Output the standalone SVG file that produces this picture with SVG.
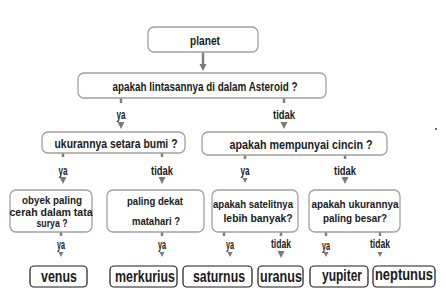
<svg xmlns="http://www.w3.org/2000/svg" width="446" height="304" viewBox="0 0 446 304">
  <style>
    .box { fill: #ffffff; stroke: #a0a0a0; stroke-width: 1.3; }
    .leaf { fill: #ffffff; stroke: #1a1a1a; stroke-width: 1.2; }
    .t { font-family: "Liberation Sans", Arial, sans-serif; font-weight: bold; font-size: 13px; fill: #1a1a1a; text-anchor: middle; }
    .t3 { font-family: "Liberation Sans", Arial, sans-serif; font-weight: bold; font-size: 11.5px; fill: #1a1a1a; text-anchor: middle; }
    .lt { font-family: "Liberation Sans", Arial, sans-serif; font-weight: bold; font-size: 16px; fill: #1a1a1a; text-anchor: middle; }
    .lbl { font-family: "Liberation Sans", Arial, sans-serif; font-weight: bold; font-size: 12px; fill: #1a1a1a; text-anchor: middle; }
    .stub { stroke: #808080; stroke-width: 2.5; fill: none; }
    .head { fill: #7a7a7a; }
  </style>
  <defs>
    <path id="tri" d="M-3.5,0 L3.5,0 L0,7 Z"/>
    <path id="tris" d="M-2.5,0 L2.5,0 L0,5 Z"/>
  </defs>

  <rect width="446" height="304" fill="#ffffff"/>

  <!-- connectors: stubs under each box, branch labels and arrowheads -->
  <g id="connectors">
    <line class="stub" x1="203" y1="52" x2="203" y2="65"/>
    <use href="#tri" class="head" x="203" y="64"/>

    <line class="stub" x1="121" y1="98" x2="121" y2="103"/>
    <line class="stub" x1="284" y1="98" x2="284" y2="103"/>
    <text class="lbl" x="121" y="119" textLength="9" lengthAdjust="spacingAndGlyphs">ya</text>
    <text class="lbl" x="284" y="119" textLength="22" lengthAdjust="spacingAndGlyphs">tidak</text>
    <use href="#tri" class="head" x="121" y="122"/>
    <use href="#tri" class="head" x="284" y="122"/>

    <line class="stub" x1="63" y1="153" x2="63" y2="157"/>
    <line class="stub" x1="162" y1="153" x2="162" y2="157"/>
    <line class="stub" x1="245" y1="155" x2="245" y2="159"/>
    <line class="stub" x1="345" y1="155" x2="345" y2="159"/>
    <text class="lbl" x="63" y="175" textLength="9" lengthAdjust="spacingAndGlyphs">ya</text>
    <text class="lbl" x="162" y="175" textLength="22" lengthAdjust="spacingAndGlyphs">tidak</text>
    <text class="lbl" x="245" y="175" textLength="9" lengthAdjust="spacingAndGlyphs">ya</text>
    <text class="lbl" x="345" y="175" textLength="22" lengthAdjust="spacingAndGlyphs">tidak</text>
    <use href="#tri" class="head" x="63" y="177"/>
    <use href="#tri" class="head" x="162" y="177"/>
    <use href="#tris" class="head" x="245" y="178"/>
    <use href="#tri" class="head" x="345" y="177"/>

    <line class="stub" x1="61" y1="232" x2="61" y2="236"/>
    <line class="stub" x1="162" y1="232" x2="162" y2="236"/>
    <line class="stub" x1="224" y1="232" x2="224" y2="236"/>
    <line class="stub" x1="281" y1="232" x2="281" y2="236"/>
    <line class="stub" x1="326" y1="232" x2="326" y2="236"/>
    <line class="stub" x1="380" y1="232" x2="380" y2="236"/>
    <text class="lbl" x="61" y="249" textLength="8" lengthAdjust="spacingAndGlyphs">ya</text>
    <text class="lbl" x="162" y="249" textLength="8" lengthAdjust="spacingAndGlyphs">ya</text>
    <text class="lbl" x="230" y="249" textLength="8" lengthAdjust="spacingAndGlyphs">ya</text>
    <text class="lbl" x="281" y="248" textLength="20" lengthAdjust="spacingAndGlyphs">tidak</text>
    <text class="lbl" x="326" y="250" textLength="8" lengthAdjust="spacingAndGlyphs">ya</text>
    <text class="lbl" x="380" y="248" textLength="20" lengthAdjust="spacingAndGlyphs">tidak</text>
    <use href="#tris" class="head" x="61" y="252"/>
    <use href="#tris" class="head" x="162" y="252"/>
    <use href="#tris" class="head" x="230" y="252"/>
    <use href="#tri" class="head" x="281" y="251"/>
    <use href="#tris" class="head" x="326" y="252"/>
    <use href="#tris" class="head" x="380" y="252"/>
  </g>

  <g id="planet">
    <rect class="box" x="148" y="27" width="110" height="25" rx="6"/>
    <text class="t" x="205" y="45" textLength="30" lengthAdjust="spacingAndGlyphs">planet</text>
  </g>

  <g id="asteroid">
    <rect class="box" x="78" y="73" width="248" height="25" rx="6"/>
    <text class="t" x="205" y="91" textLength="185" lengthAdjust="spacingAndGlyphs">apakah lintasannya di dalam Asteroid ?</text>
  </g>

  <g id="setara-bumi">
    <rect class="box" x="42" y="132" width="143" height="21" rx="6"/>
    <text class="t" x="116" y="148" textLength="123" lengthAdjust="spacingAndGlyphs">ukurannya setara bumi ?</text>
  </g>

  <g id="cincin">
    <rect class="box" x="202" y="132" width="185" height="23" rx="6"/>
    <text class="t" x="301" y="149" textLength="143" lengthAdjust="spacingAndGlyphs">apakah mempunyai cincin ?</text>
  </g>

  <g id="obyek-cerah">
    <rect class="box" x="10" y="190" width="82" height="42" rx="6"/>
    <text class="t3" x="52" y="204" textLength="60" lengthAdjust="spacingAndGlyphs">obyek paling</text>
    <text class="t3" x="51" y="216" textLength="83" lengthAdjust="spacingAndGlyphs">cerah dalam tata</text>
    <text class="t3" x="52" y="227" textLength="31" lengthAdjust="spacingAndGlyphs">surya ?</text>
  </g>

  <g id="dekat-matahari">
    <rect class="box" x="107" y="190" width="97" height="42" rx="6"/>
    <text class="t3" x="155" y="205" textLength="56" lengthAdjust="spacingAndGlyphs">paling dekat</text>
    <text class="t3" x="156" y="225" textLength="48" lengthAdjust="spacingAndGlyphs">matahari ?</text>
  </g>

  <g id="satelit">
    <rect class="box" x="212" y="190" width="86" height="42" rx="6"/>
    <text class="t3" x="253" y="208" textLength="80" lengthAdjust="spacingAndGlyphs">apakah satelitnya</text>
    <text class="t3" x="258" y="222" textLength="69" lengthAdjust="spacingAndGlyphs">lebih banyak?</text>
  </g>

  <g id="paling-besar">
    <rect class="box" x="309" y="190" width="91" height="42" rx="6"/>
    <text class="t3" x="355" y="208" textLength="87" lengthAdjust="spacingAndGlyphs">apakah ukurannya</text>
    <text class="t3" x="355" y="222" textLength="64" lengthAdjust="spacingAndGlyphs">paling besar?</text>
  </g>

  <g id="venus">
    <rect class="leaf" x="30" y="266" width="57" height="21" rx="4"/>
    <text class="lt" x="59" y="282" textLength="36" lengthAdjust="spacingAndGlyphs">venus</text>
  </g>
  <g id="merkurius">
    <rect class="leaf" x="110" y="266" width="67" height="21" rx="4"/>
    <text class="lt" x="145" y="282" textLength="60" lengthAdjust="spacingAndGlyphs">merkurius</text>
  </g>
  <g id="saturnus">
    <rect class="leaf" x="183" y="266" width="69" height="21" rx="4"/>
    <text class="lt" x="219" y="282" textLength="52" lengthAdjust="spacingAndGlyphs">saturnus</text>
  </g>
  <g id="uranus">
    <rect class="leaf" x="258" y="266" width="45" height="21" rx="4"/>
    <text class="lt" x="281" y="282" textLength="42" lengthAdjust="spacingAndGlyphs">uranus</text>
  </g>
  <g id="yupiter">
    <rect class="leaf" x="310" y="266" width="58" height="21" rx="4"/>
    <text class="lt" x="342" y="281" textLength="40" lengthAdjust="spacingAndGlyphs">yupiter</text>
  </g>
  <g id="neptunus">
    <rect class="leaf" x="373" y="266" width="62" height="21" rx="4"/>
    <text class="lt" x="404" y="280" textLength="58" lengthAdjust="spacingAndGlyphs">neptunus</text>
  </g>

  <circle cx="436" cy="129" r="0.9" fill="#333333"/>
</svg>
